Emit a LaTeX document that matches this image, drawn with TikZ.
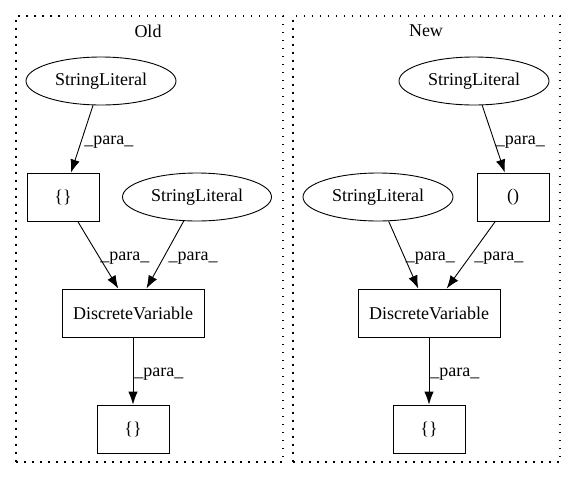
\documentclass[tikz,border=0pt]{standalone}
\usepackage{fontspec}
\setmainfont{Liberation Serif}
\usepackage{tikz}
\usetikzlibrary{shapes}
\usetikzlibrary{arrows.meta}
\tikzset{
  font={\fontsize{18pt}{20}\selectfont}}

\begin{document}
\begin{tikzpicture}[x = 1pt, y = -1pt]

    \tikzset{edge/.style = {-{Latex[length=13pt,width=9.5pt]}, line width=0.9pt}}
    \tikzset{cluster/.style = {draw=black, line width=1.3pt, dash pattern=on 1.5pt off 6.5pt, inner sep=0pt}}
    \tikzset{lit/.style = {draw=black, ellipse, line width=0.9pt, minimum width=150pt, minimum height=48pt, inner sep=0pt}}
    \tikzset{box/.style = {draw=black, rectangle, line width=0.9pt, minimum width=72pt, minimum height=48pt, inner sep=0pt}}
    \tikzset{lab/.style = {right, yshift=-3pt}}

    \useasboundingbox (0,0) rectangle (576,480);

    % clusters
    \node[cluster, minimum width=267pt, minimum height=446pt] (old) at (149.5,239) {};
    \node[cluster, minimum width=267pt, minimum height=446pt] (new) at (426.5,239) {};
    \node (oldlabel) at (148,31) {Old};
    \node (newlabel) at (426,31) {New};

    % vertices
    \node[lit] (a) at (101,81) {StringLiteral};
    \node[box] (b) at (63,197) {\{\}};
    \node[lit, minimum width=149pt] (c) at (197,197) {StringLiteral};
    \node[box, minimum width=142pt] (d) at (133,313) {DiscreteVariable};
    \node[box] (e) at (133,429) {\{\}};

    \node[lit] (f) at (474,81) {StringLiteral};
    \node[lit] (g) at (378,197) {StringLiteral};
    \node[box] (h) at (513,197) {()};
    \node[box, minimum width=142pt] (i) at (429,313) {DiscreteVariable};
    \node[box] (j) at (429,429) {\{\}};

    %edges
    \draw[edge] (a) to node [lab, inner sep=2pt] {\_para\_} (b);
    \draw[edge] (b) to node [lab, inner sep=2pt] {\_para\_} (d);
    \draw[edge] (c) to node [lab, inner sep=3pt] {\_para\_} (d);
    \draw[edge] (d) to node [lab, inner sep=1pt] {\_para\_} (e);

    \draw[edge] (f) to node [lab, inner sep=2pt] {\_para\_} (h);
    \draw[edge] (g) to node [lab, inner sep=2pt] {\_para\_} (i);
    \draw[edge] (h) to node [lab, inner sep=3pt] {\_para\_} (i);
    \draw[edge] (i) to node [lab, inner sep=1pt] {\_para\_} (j);

\end{tikzpicture}
\end{document}
